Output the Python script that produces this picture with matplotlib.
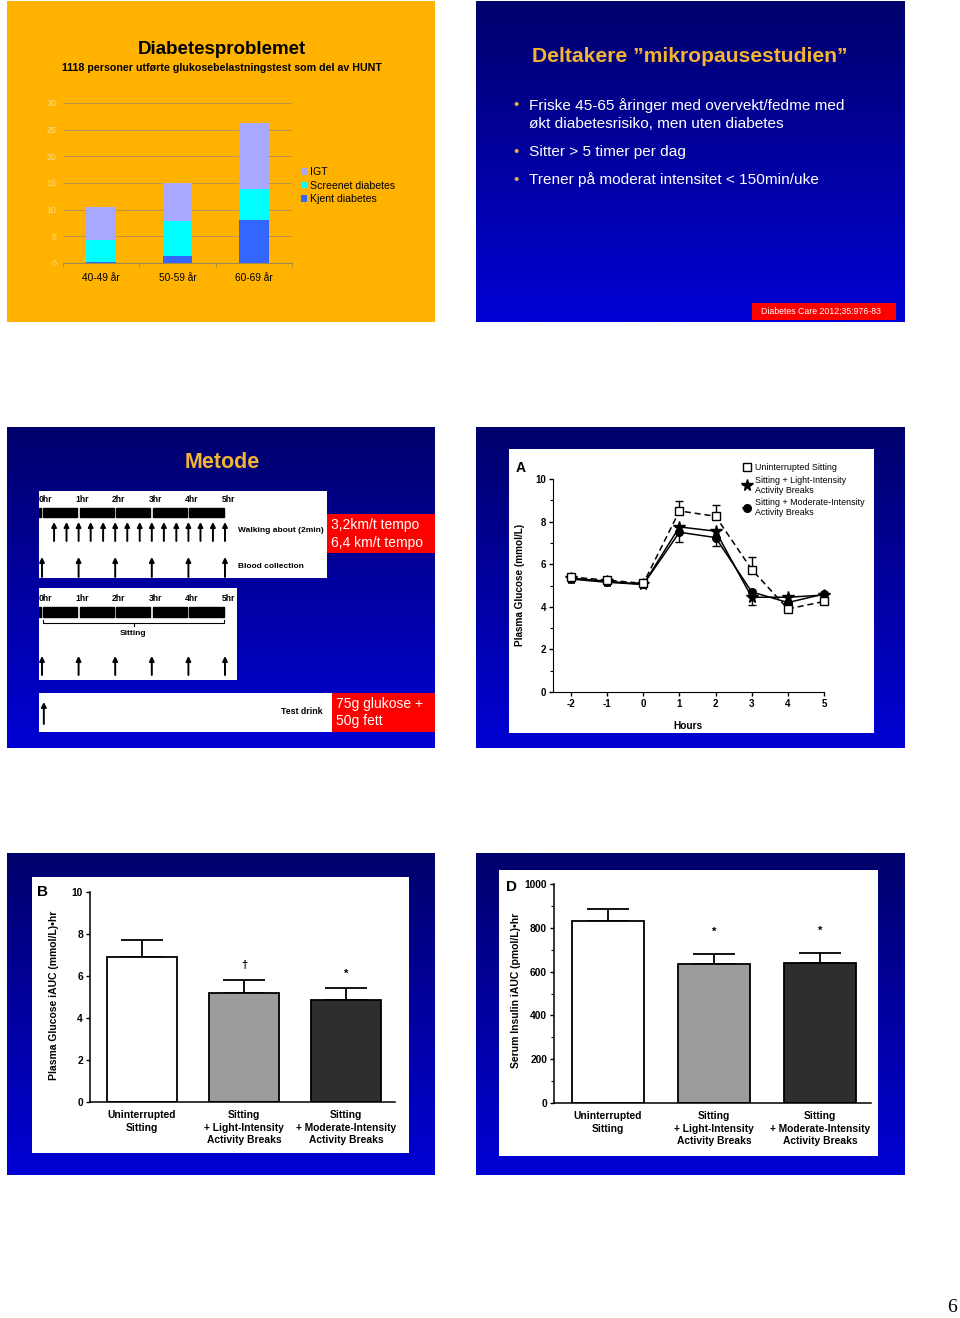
import numpy as np
import matplotlib
matplotlib.use("Agg")
import matplotlib.pyplot as plt
from matplotlib.patches import Rectangle
from matplotlib.colors import LinearSegmentedColormap
from matplotlib.ticker import MultipleLocator

plt.rcParams['font.family'] = ['Liberation Sans', 'DejaVu Sans']
plt.rcParams['axes.unicode_minus'] = False

W, H = 960, 1318

# slide 1 : Diabetesproblemet (HUNT)
ages = ['40-49 år', '50-59 år', '60-69 år']
kjent = [0.25, 1.4, 8.1]
screenet = [4.0, 6.5, 5.85]
igt = [6.2, 7.1, 12.3]

# slide 2 : bullets
bullets = ["Friske 45-65 åringer med overvekt/fedme med\nøkt diabetesrisiko, men uten diabetes",
           "Sitter > 5 timer per dag",
           "Trener på moderat intensitet < 150min/uke"]

# slide 3 : protocol diagram
hr_ticks = [0, 1, 2, 3, 4, 5]
hr_labels = ['0hr', '1hr', '2hr', '3hr', '4hr', '5hr']
walk_times = [0.33, 0.67, 1.0, 1.33, 1.67, 2.0, 2.33, 2.67, 3.0, 3.33, 3.67, 4.0, 4.33, 4.67, 5.0]
blood_times = [0, 1, 2, 3, 4, 5]

# slide 4 : plasma glucose time course
hours = [-2, -1, 0, 1, 2, 3, 4, 5]
gl_unint = [5.4, 5.25, 5.1, 8.5, 8.25, 5.75, 3.9, 4.25]
gl_unint_up = [0, 0, 0, 0.45, 0.55, 0.6, 0, 0]
gl_light = [5.35, 5.2, 5.05, 7.75, 7.55, 4.45, 4.45, 4.55]
gl_light_lo = [0, 0, 0, 0, 0, 0.35, 0, 0]
gl_mod = [5.3, 5.15, 5.05, 7.5, 7.25, 4.7, 4.2, 4.6]
gl_mod_lo = [0, 0, 0, 0.45, 0.4, 0, 0, 0]

# slides 5 and 6 : iAUC bars
conds = ['Uninterrupted\nSitting', 'Sitting\n+ Light-Intensity\nActivity Breaks',
         'Sitting\n+ Moderate-Intensity\nActivity Breaks']
gl_auc = [6.9, 5.2, 4.85]
gl_auc_err = [0.8, 0.62, 0.57]
gl_sig = ['', '†', '*']
ins_auc = [830, 635, 640]
ins_auc_err = [55, 45, 45]
ins_sig = ['', '*', '*']

fig = plt.figure(figsize=(W / 100, H / 100), dpi=100)
blue = LinearSegmentedColormap.from_list('bg', ['#00006C', '#0000D4'])


def px_ax(x0, y0, x1, y1):
    return fig.add_axes([x0 / W, 1 - y1 / H, (x1 - x0) / W, (y1 - y0) / H])


def panel(x0, y0, x1, y1, color='white'):
    ax = px_ax(x0, y0, x1, y1)
    ax.set_facecolor(color)
    ax.set_xticks([])
    ax.set_yticks([])
    for s in ax.spines.values():
        s.set_visible(False)
    return ax


def blue_slide(x0, y0, x1, y1):
    ax = px_ax(x0, y0, x1, y1)
    ax.imshow(np.linspace(0, 1, 200).reshape(-1, 1), aspect='auto', cmap=blue,
              extent=[0, 1, 0, 1])
    ax.axis('off')


def ftext(x, y, s, **kw):
    kw.setdefault('va', 'center')
    fig.text(x / W, 1 - y / H, s, **kw)


def red_box(x0, y0, x1, y1):
    fig.add_artist(Rectangle((x0 / W, 1 - y1 / H), (x1 - x0) / W, (y1 - y0) / H,
                             transform=fig.transFigure, facecolor='#FF0000', edgecolor='none'))


def up_arrows(ax, xs, y_tail, y_head):
    for t in xs:
        ax.annotate('', xy=(t, y_head), xytext=(t, y_tail),
                    arrowprops=dict(arrowstyle='-|>', lw=1.4, color='k',
                                    mutation_scale=7, shrinkA=0, shrinkB=0))


def hour_box(x0, y0, x1, y1):
    # 0hr sits at x=42 px, 36.6 px per hour
    ax = panel(x0, y0, x1, y1)
    ax.set_xlim((x0 - 42) / 36.6, (x1 - 42) / 36.6)
    ax.set_ylim(y1, y0)
    return ax


def bold_ticks(ax):
    for lab in ax.get_xticklabels() + ax.get_yticklabels():
        lab.set_fontweight('bold')


# ---------------- slide 1
panel(7, 1, 435, 322, '#FFB300')
ftext(222, 49, 'Diabetesproblemet', ha='center', fontsize=13.5, fontweight='bold')
ftext(222, 68, '1118 personer utførte glukosebelastningstest som del av HUNT',
      ha='center', fontsize=7.7, fontweight='bold')

ax = px_ax(63, 103, 292, 263)
ax.set_facecolor('none')
x = np.arange(len(ages))
ax.bar(x, kjent, 0.39, color='#3366FF', label='Kjent diabetes')
ax.bar(x, screenet, 0.39, bottom=kjent, color='#00FFFF', label='Screenet diabetes')
ax.bar(x, igt, 0.39, bottom=np.add(kjent, screenet), color='#A8A8FF', label='IGT')
ax.set_xlim(-0.5, 2.5)
ax.set_ylim(0, 30)
ax.set_yticks(range(0, 31, 5))
ax.yaxis.grid(True, color='#B8944C', lw=0.7)
ax.set_axisbelow(True)
ax.tick_params(axis='y', length=0, labelsize=6.3, labelcolor='#F8DA8E', pad=5)
ax.set_xticks(x, ages)
ax.set_xticks([-0.5, 0.5, 1.5, 2.5], minor=True)
ax.tick_params(axis='x', which='major', length=0, labelsize=7.3, pad=7)
ax.tick_params(axis='x', which='minor', length=3, color='#A08850')
for s in ['top', 'right', 'left']:
    ax.spines[s].set_visible(False)
ax.spines['bottom'].set_color('#A08850')
h, l = ax.get_legend_handles_labels()
ax.legend(h[::-1], l[::-1], loc='upper left', bbox_to_anchor=(1.04, 0.6), frameon=False,
          fontsize=7.6, handlelength=0.6, handleheight=0.6, handletextpad=0.2,
          labelspacing=0.35, borderpad=0, borderaxespad=0)

# ---------------- slide 2
blue_slide(476, 1, 905, 322)
ftext(690, 57, 'Deltakere ”mikropausestudien”', ha='center', fontsize=15.2,
      fontweight='bold', color='#F2B432')
for b, yb in zip(bullets, [114.5, 152, 180]):
    ftext(516, yb - (9.5 if '\n' in b else 0), '•', ha='center', fontsize=11, color='#E8B040')
    ftext(529, yb, b, ha='left', fontsize=11.1, color='white', linespacing=1.3)
red_box(752, 303, 896, 320)
ftext(821, 311.5, 'Diabetes Care 2012;35:976-83', ha='center', fontsize=6.3, color='white')

# ---------------- slide 3
blue_slide(7, 427, 435, 748)
ftext(222, 463, 'Metode', ha='center', fontsize=15.5, fontweight='bold', color='#F2B432')

ax = hour_box(39, 491, 327, 578)
for t, lab in zip(hr_ticks, hr_labels):
    ax.text(t + 0.1, 500, lab, ha='center', va='center', fontsize=6.2, fontweight='bold')
for t in hr_ticks[:-1]:
    ax.add_patch(Rectangle((t + 0.03, 508), 0.93, 9, color='k'))
ax.add_patch(Rectangle((-0.08, 508), 0.05, 9, color='k'))
up_arrows(ax, walk_times, 541, 522)
up_arrows(ax, blood_times, 577, 557)
ax.text(5.36, 531, 'Walking about (2min)', va='center', fontsize=6.0, fontweight='bold')
ax.text(5.36, 567, 'Blood collection', va='center', fontsize=6.0, fontweight='bold')
red_box(327, 514, 435, 553)
ftext(331, 525, '3,2km/t tempo', fontsize=10, color='white')
ftext(331, 543, '6,4 km/t tempo', fontsize=10, color='white')

ax = hour_box(39, 588, 237, 680)
for t, lab in zip(hr_ticks, hr_labels):
    ax.text(t + 0.1, 599, lab, ha='center', va='center', fontsize=6.2, fontweight='bold')
for t in hr_ticks[:-1]:
    ax.add_patch(Rectangle((t + 0.03, 607), 0.93, 10, color='k'))
ax.add_patch(Rectangle((-0.08, 607), 0.05, 10, color='k'))
ax.plot([0.03, 0.03, 4.97, 4.97], [620, 623, 623, 620], color='k', lw=0.8)
ax.plot([2.5, 2.5], [623, 626], color='k', lw=0.8)
ax.text(2.5, 634, 'Sitting', ha='center', va='center', fontsize=6.0, fontweight='bold')
up_arrows(ax, blood_times, 675, 656)

ax = hour_box(39, 693, 332, 732)
up_arrows(ax, [0.05], 724, 702)
ax.text((322 - 42) / 36.6, 712, 'Test drink', ha='right', va='center', fontsize=6.3,
        fontweight='bold')
red_box(332, 693, 435, 732)
ftext(336, 704, '75g glukose +', fontsize=10, color='white')
ftext(336, 721, '50g fett', fontsize=10, color='white')

# ---------------- slide 4
blue_slide(476, 427, 905, 748)
panel(509, 449, 874, 733)
ax = px_ax(553, 479, 824, 692)
ax.set_facecolor('none')
series = [(gl_unint, gl_unint_up, 'up', dict(ls='--', dashes=(4, 2.5), marker='s', mfc='white', ms=6),
           'Uninterrupted Sitting'),
          (gl_light, gl_light_lo, 'lo', dict(ls='-', marker='*', mfc='k', ms=8.5),
           'Sitting + Light-Intensity\nActivity Breaks'),
          (gl_mod, gl_mod_lo, 'lo', dict(ls='-', marker='o', mfc='k', ms=5.5),
           'Sitting + Moderate-Intensity\nActivity Breaks')]
for vals, err, side, style, lab in series:
    ax.plot(hours, vals, color='k', lw=1.1, mec='k', mew=1, clip_on=False, label=lab,
            zorder=3 if side == 'up' else 2, **style)
    err = np.array(err)
    m = err > 0
    zeros = np.zeros(m.sum())
    yerr = [zeros, err[m]] if side == 'up' else [err[m], zeros]
    ax.errorbar(np.array(hours)[m], np.array(vals)[m], yerr=yerr, fmt='none', ecolor='k',
                elinewidth=1, capsize=3, capthick=1)
ax.set_xlim(-2.5, 5)
ax.set_ylim(0, 10)
ax.set_xticks(hours)
ax.set_yticks(range(0, 11, 2))
ax.yaxis.set_minor_locator(MultipleLocator(1))
ax.tick_params(direction='out', length=3, width=1, labelsize=7, pad=2)
ax.tick_params(which='minor', length=2, width=0.8)
bold_ticks(ax)
for s in ['top', 'right']:
    ax.spines[s].set_visible(False)
leg = ax.legend(loc='upper left', bbox_to_anchor=(0.7, 1.075), frameon=False, fontsize=6.4,
                handlelength=0.9, handletextpad=0.5, labelspacing=0.4, borderpad=0,
                borderaxespad=0)
for t in leg.get_texts():
    t.set_linespacing(1.15)
ftext(688, 726, 'Hours', ha='center', fontsize=7.3, fontweight='bold')
ftext(520, 585, 'Plasma Glucose (mmol/L)', ha='center', rotation=90, fontsize=7.2,
      fontweight='bold')
ftext(521, 468, 'A', ha='center', fontsize=10, fontweight='bold')


# ---------------- slides 5 and 6
def auc_panel(box, vals, errs, sig, ymax, ystep, minor, sig_off, capsize):
    ax = px_ax(*box)
    ax.set_facecolor('none')
    xb = np.arange(len(conds))
    ax.bar(xb, vals, 0.68, color=['white', '#9C9C9C', '#2E2E2E'], edgecolor='k', lw=1.3,
           zorder=2)
    ax.errorbar(xb, vals, yerr=[np.zeros(len(vals)), errs], fmt='none', ecolor='k',
                elinewidth=1.3, capsize=capsize, capthick=1.3, zorder=1)
    for xi, v, e, s in zip(xb, vals, errs, sig):
        ax.text(xi, v + e + sig_off, s, ha='center', va='center', fontsize=8,
                fontweight='bold')
    ax.set_xlim(-0.51, 2.48)
    ax.set_ylim(0, ymax)
    ax.set_yticks(np.arange(0, ymax + 1, ystep))
    if minor:
        ax.yaxis.set_minor_locator(MultipleLocator(minor))
    ax.set_xticks(xb, conds, linespacing=1.3)
    ax.tick_params(axis='x', length=0, labelsize=7.4, pad=6)
    ax.tick_params(axis='y', direction='out', length=3, width=1, labelsize=7.4, pad=2)
    ax.tick_params(which='minor', length=2, width=0.8)
    bold_ticks(ax)
    for s in ['top', 'right']:
        ax.spines[s].set_visible(False)
    for s in ['left', 'bottom']:
        ax.spines[s].set_linewidth(1.1)
    return ax


blue_slide(7, 853, 435, 1175)
panel(32, 877, 409, 1153)
auc_panel((90, 892, 395, 1102), gl_auc, gl_auc_err, gl_sig, 10, 2, None, 0.7, 15)
ftext(54, 995, 'Plasma Glucose iAUC (mmol/L)•hr', ha='center', rotation=90, fontsize=7.5,
      fontweight='bold')
ftext(43, 892, 'B', ha='center', fontsize=11, fontweight='bold')

blue_slide(476, 853, 905, 1175)
panel(499, 870, 878, 1156)
auc_panel((554, 884, 871, 1103), ins_auc, ins_auc_err, ins_sig, 1000, 200, 100, 100, 15)
ftext(516, 990, 'Serum Insulin iAUC (pmol/L)•hr', ha='center', rotation=90, fontsize=7.5,
      fontweight='bold')
ftext(511, 887, 'D', ha='center', fontsize=11, fontweight='bold')

# page number
ftext(952, 1308, '6', ha='center', fontsize=14, family=['Liberation Serif', 'DejaVu Serif'])

fig.savefig('out.png', dpi=100)
